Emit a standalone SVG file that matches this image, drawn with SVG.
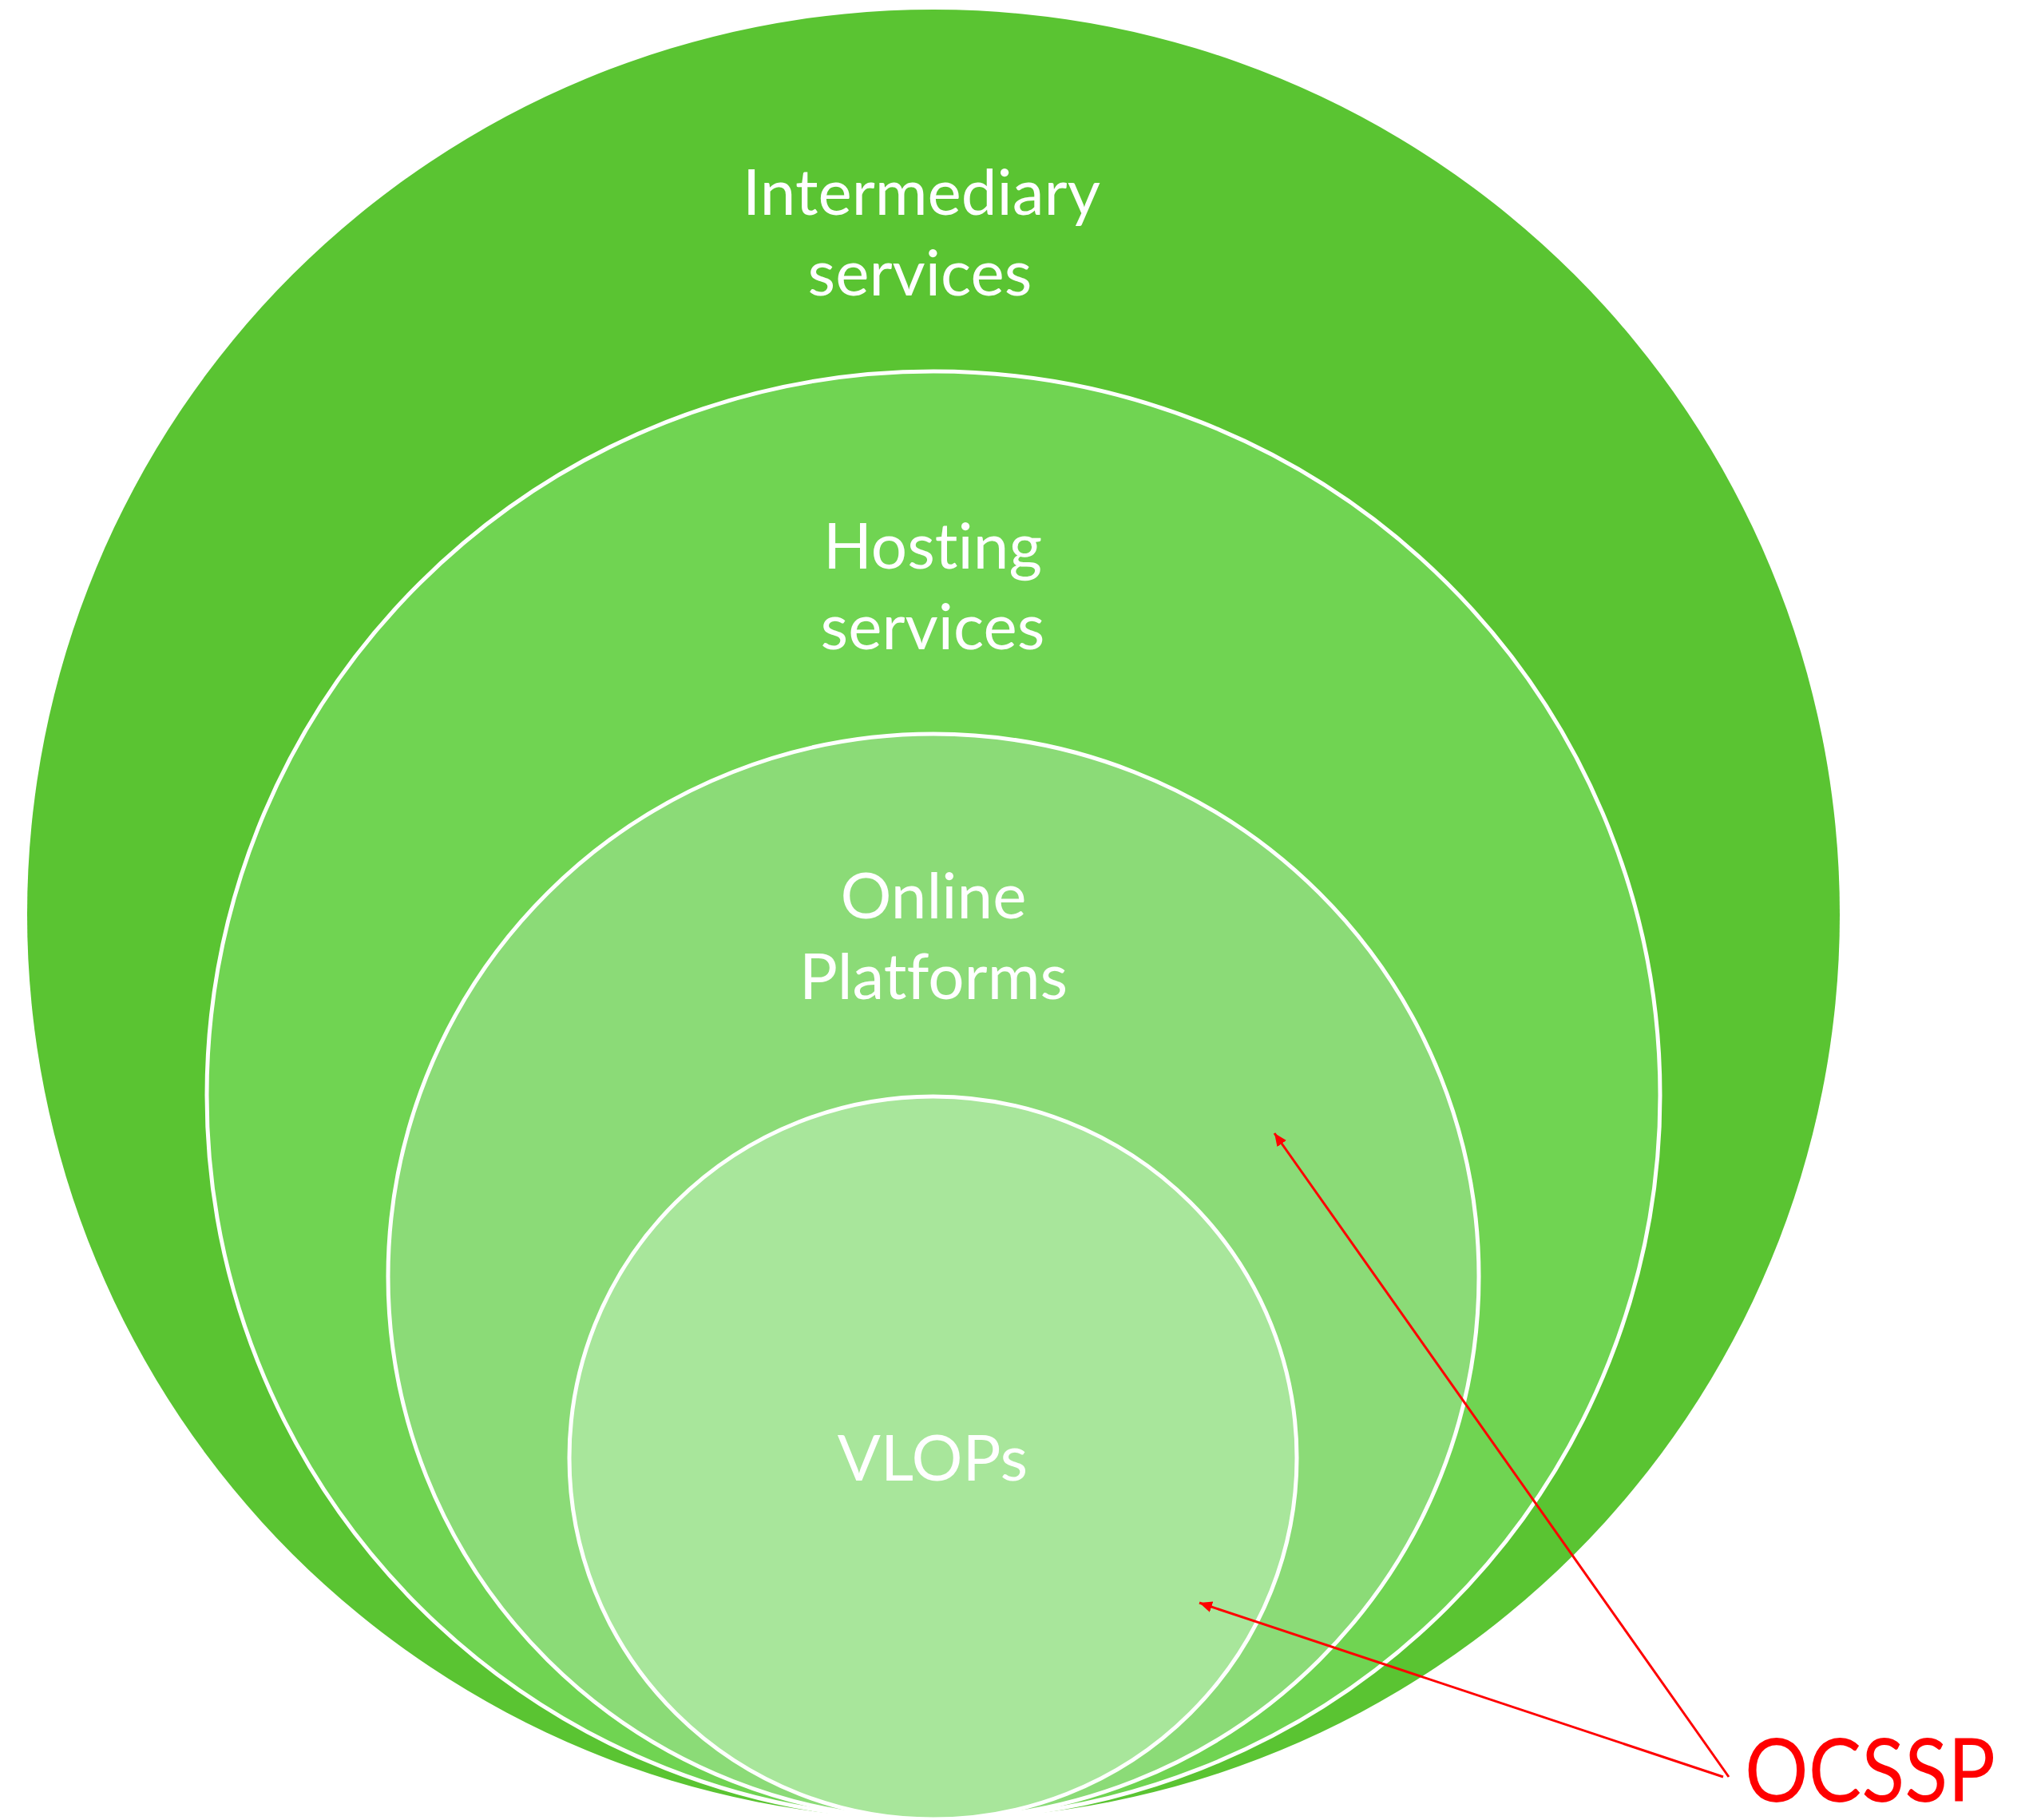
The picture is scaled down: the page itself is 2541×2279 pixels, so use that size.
<svg xmlns="http://www.w3.org/2000/svg" width="2541" height="2279" viewBox="0 0 2541 2279">
<style>
text{font-family:Lato,"Open Sans","Liberation Sans",sans-serif;font-variant-ligatures:none;font-feature-settings:"liga" 0,"clig" 0;text-anchor:middle}
.lbl{font-size:80px;fill:#fff}
.big{font-size:110px;fill:#f00}
.ring{stroke:#fff;stroke-width:5}
.arr{stroke:#f00;stroke-width:3;fill:none;marker-end:url(#ah)}
</style>
<defs>
<marker id="ah" markerUnits="userSpaceOnUse" markerWidth="20" markerHeight="16" refX="16" refY="7" orient="auto">
<path d="M0,0 L16,7 L0,14 Z" fill="#f00"/>
</marker>
</defs>
<rect width="2541" height="2279" fill="#fff"/>
<g id="intermediary">
<ellipse cx="1169" cy="1145" rx="1135" ry="1133" fill="#5AC432"/>
<text class="lbl" x="1154" y="269">Intermediary</text>
<text class="lbl" x="1152" y="370">services</text>
</g>
<g id="hosting">
<ellipse class="ring" cx="1169" cy="1371.5" rx="910" ry="906.5" fill="#70D452"/>
<text class="lbl" x="1168" y="712">Hosting</text>
<text class="lbl" x="1168" y="813">services</text>
</g>
<g id="online">
<ellipse class="ring" cx="1169" cy="1598.5" rx="683" ry="679.5" fill="#8BDB77"/>
<text class="lbl" x="1169" y="1150">Online</text>
<text class="lbl" x="1169" y="1251">Platforms</text>
</g>
<g id="vlops">
<ellipse class="ring" cx="1168.5" cy="1825.5" rx="455.5" ry="452.5" fill="#A8E69B"/>
<text class="lbl" x="1168" y="1854">VLOPs</text>
</g>
<g id="ocssp">
<text class="big" x="2342" y="2256" textLength="314" lengthAdjust="spacingAndGlyphs">OCSSP</text>
</g>
<g id="connectors">
<line class="arr" x1="2165" y1="2225" x2="1596" y2="1419"/>
<line class="arr" x1="2158" y1="2225" x2="1502" y2="2007"/>
</g>
</svg>
